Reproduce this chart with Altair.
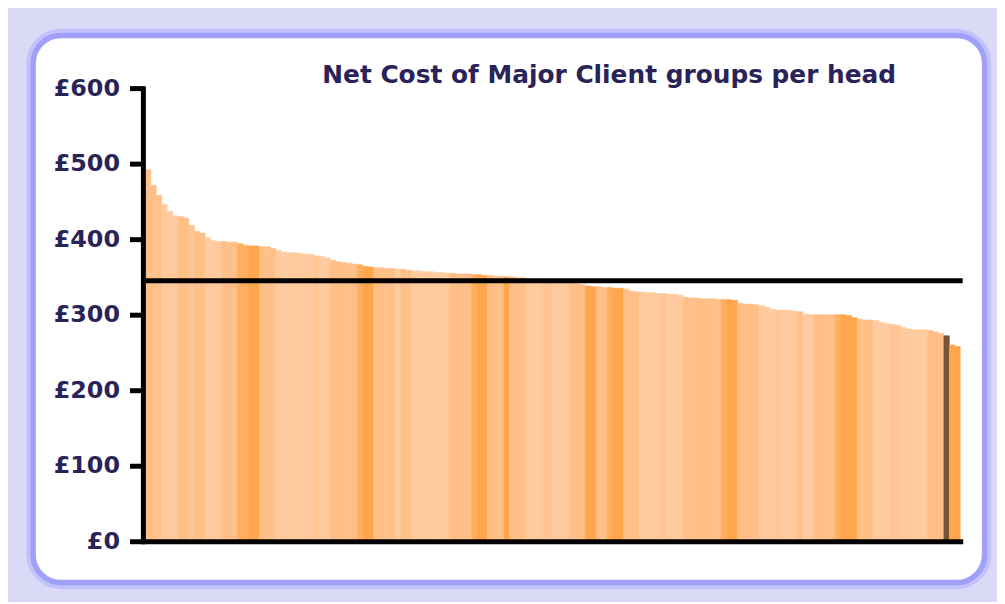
import altair as alt
import pandas as pd

TITLE = "Net Cost of Major Client groups per head"

# Net cost per head (GBP), one bar per authority, sorted high to low
values = [
    492, 471, 458, 446, 437, 431, 430, 428, 418, 410,
    408, 402, 398, 397, 397, 396, 396, 394, 392, 391,
    391, 390, 390, 388, 385, 383, 382, 382, 381, 380,
    380, 378, 377, 375, 372, 370, 369, 368, 367, 366,
    364, 363, 362, 362, 361, 361, 360, 360, 359, 358,
    358, 357, 357, 356, 356, 355, 355, 354, 354, 354,
    353, 353, 352, 352, 351, 351, 350, 350, 349, 349,
    348, 347, 347, 346, 346, 345, 344, 343, 342, 341,
    340, 338, 337, 337, 336, 336, 335, 335, 334, 331,
    330, 330, 329, 329, 328, 328, 327, 327, 326, 323,
    322, 322, 321, 321, 321, 320, 320, 320, 319, 315,
    314, 314, 313, 312, 310, 307, 306, 306, 306, 305,
    304, 301, 300, 300, 300, 300, 300, 300, 300, 299,
    296, 294, 293, 293, 292, 290, 288, 287, 286, 283,
    281, 280, 280, 280, 279, 277, 275, 272, 260, 258,
]

# shade group of each bar
groups = [
    "M", "M", "M", "L", "L", "L", "M", "M", "LM", "M",
    "M", "L", "L", "L", "M", "M", "M", "MD", "MD", "D",
    "D", "M", "M", "M", "L", "L", "L", "L", "L", "L",
    "L", "LM", "L", "L", "M", "M", "M", "M", "M", "MD",
    "D", "D", "M", "M", "M", "M", "L", "M", "M", "L",
    "L", "L", "L", "L", "L", "L", "M", "M", "M", "M",
    "MD", "D", "D", "M", "M", "M", "D", "M", "M", "M",
    "L", "L", "L", "LM", "LM", "L", "L", "L", "M", "M",
    "M", "D", "D", "M", "M", "MD", "D", "D", "M", "M",
    "M", "L", "L", "L", "L", "LM", "L", "L", "L", "M",
    "M", "M", "M", "M", "M", "M", "MD", "D", "D", "M",
    "M", "M", "M", "L", "L", "L", "LM", "L", "L", "L",
    "M", "L", "L", "M", "M", "M", "M", "MD", "D", "D",
    "D", "M", "M", "M", "L", "L", "L", "LM", "LM", "L",
    "L", "L", "L", "L", "M", "M", "M", "H", "D", "D",
]

AVERAGE = [345]
Y_TICKS = [0, 100, 200, 300, 400, 500, 600]
GROUP_DOMAIN = ["L", "LM", "M", "MD", "D", "H"]
GROUP_COLORS = ["#FFCB9E", "#FFC594", "#FFBF87", "#FFAD60", "#FFA54B", "#74553A"]

df = pd.DataFrame({"rank": list(range(len(values))), "cost": values, "group": groups})
avg_df = pd.DataFrame({"cost": AVERAGE})
one = pd.DataFrame({"k": [0]})

frame_enc = dict(x=alt.value(-113), x2=alt.value(844.5), y=alt.value(-53), y2=alt.value(497.5))
outer = alt.Chart(one).mark_rect(fill="white", stroke="#C2C2FA", strokeWidth=13.5,
                                 cornerRadius=28).encode(**frame_enc)
inner = alt.Chart(one).mark_rect(fill="white", stroke="#A0A0FB", strokeWidth=5.5,
                                 cornerRadius=28).encode(**frame_enc)

color_scale = alt.Scale(domain=GROUP_DOMAIN, range=GROUP_COLORS)


def y_enc():
    return alt.Y("cost:Q",
                 scale=alt.Scale(domain=[0, 600], nice=False),
                 axis=alt.Axis(values=Y_TICKS, labelExpr="'£' + datum.value",
                               title=None, grid=False, offset=2.5,
                               domainColor="black", domainWidth=5, domainCap="square",
                               tickColor="black", tickWidth=5, tickSize=13.5,
                               labelPadding=10, labelFont="DejaVu Sans",
                               labelFontWeight="bold", labelFontSize=24,
                               labelColor="#2A2456", zindex=1))


bars = alt.Chart(df).mark_bar(strokeWidth=0.6).encode(
    x=alt.X("rank:O",
            scale=alt.Scale(paddingInner=0, paddingOuter=0),
            axis=alt.Axis(labels=False, ticks=False, title=None, grid=False,
                          domainColor="black", domainWidth=5, domainCap="square",
                          zindex=1)),
    y=y_enc(),
    color=alt.Color("group:N", scale=color_scale, legend=None),
    stroke=alt.Stroke("group:N", scale=color_scale, legend=None),
)

avg_rule = alt.Chart(avg_df).mark_rule(
    color="black", strokeWidth=5, strokeCap="square"
).encode(y=y_enc())

title = alt.Chart(pd.DataFrame({"t": [TITLE]})).mark_text(
    align="left", baseline="alphabetic", font="DejaVu Sans", fontWeight="bold",
    fontSize=25, color="#29235A"
).encode(text="t:N", x=alt.value(178), y=alt.value(-5))

chart = alt.layer(outer, inner, bars, avg_rule, title).properties(
    width=820, height=456,
    padding={"left": 18.25, "top": 18.75, "right": 5, "bottom": 10},
    background="#DADAF7",
).configure_view(strokeWidth=0)

chart.save("out.html", embed_options={"renderer": "svg", "actions": False})
